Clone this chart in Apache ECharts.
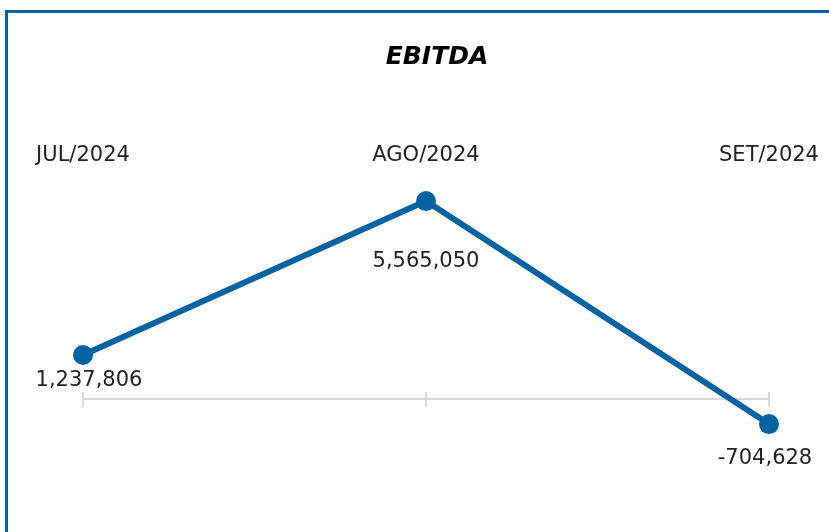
<!DOCTYPE html>
<html><head><meta charset="utf-8">
<script src="https://cdn.jsdelivr.net/npm/echarts@6/dist/echarts.min.js"></script>
<style>html,body{margin:0;padding:0;background:#fff}#c{width:829px;height:532px}</style>
</head><body><div id="c"></div>
<script>
const title = 'EBITDA';
const categories = ['JUL/2024', 'AGO/2024', 'SET/2024'];
const values = [1237806, 5565050, -704628];

const labelOffsets = [[6, 26], [0, 60], [-4, 34]];
const font = 'DejaVu Sans';
const blue = '#0563a2';
const gridBox = { left: 83, right: 60, top: 185.6, height: 249 };
const yCfg = { type: 'value', min: -1000000, max: 6000000, show: false, splitLine: { show: false } };

const chart = echarts.init(document.getElementById('c'));
chart.setOption({
  animation: false,
  title: {
    text: title, left: 432, top: 40, textAlign: 'center',
    textStyle: { fontFamily: font, fontSize: 25, fontWeight: 'bold', fontStyle: 'italic', color: '#000' }
  },
  graphic: [{
    type: 'rect', shape: { x: 6.5, y: 11.5, width: 900, height: 600 },
    style: { fill: 'none', stroke: blue, lineWidth: 3 }, silent: true
  }],
  grid: [Object.assign({}, gridBox), Object.assign({}, gridBox)],
  xAxis: [
    { type: 'category', gridIndex: 0, data: categories, boundaryGap: false, position: 'bottom',
      axisLine: { onZero: true, lineStyle: { color: '#d9d9d9', width: 2 } },
      axisTick: { show: true, length: 8, lineStyle: { color: '#d9d9d9', width: 2 } },
      axisLabel: { show: false }, splitLine: { show: false } },
    { type: 'category', gridIndex: 0, data: categories, boundaryGap: false, position: 'top',
      axisLine: { onZero: false, show: false }, axisTick: { show: false },
      axisLabel: { show: true, margin: 20, fontFamily: font, fontSize: 21, color: '#222' },
      splitLine: { show: false } },
    { type: 'category', gridIndex: 1, data: categories, boundaryGap: false, position: 'bottom',
      axisLine: { onZero: true, show: true, lineStyle: { color: '#d9d9d9', width: 2 } },
      axisTick: { show: true, inside: true, length: 7, lineStyle: { color: '#d9d9d9', width: 2 } },
      axisLabel: { show: false }, splitLine: { show: false } }
  ],
  yAxis: [Object.assign({ gridIndex: 0 }, yCfg), Object.assign({ gridIndex: 1 }, yCfg)],
  series: [{
    type: 'line', xAxisIndex: 0, yAxisIndex: 0, z: 5,
    data: values.map((v, i) => ({
      value: v,
      label: { offset: [labelOffsets[i][0], labelOffsets[i][1]] }
    })),
    symbol: 'circle', symbolSize: 20,
    lineStyle: { color: blue, width: 6 },
    itemStyle: { color: blue },
    label: {
      show: true, position: 'inside', fontFamily: font, fontSize: 21, color: '#222',
      formatter: p => p.value.toLocaleString('en-US')
    }
  }]
});
</script></body></html>
